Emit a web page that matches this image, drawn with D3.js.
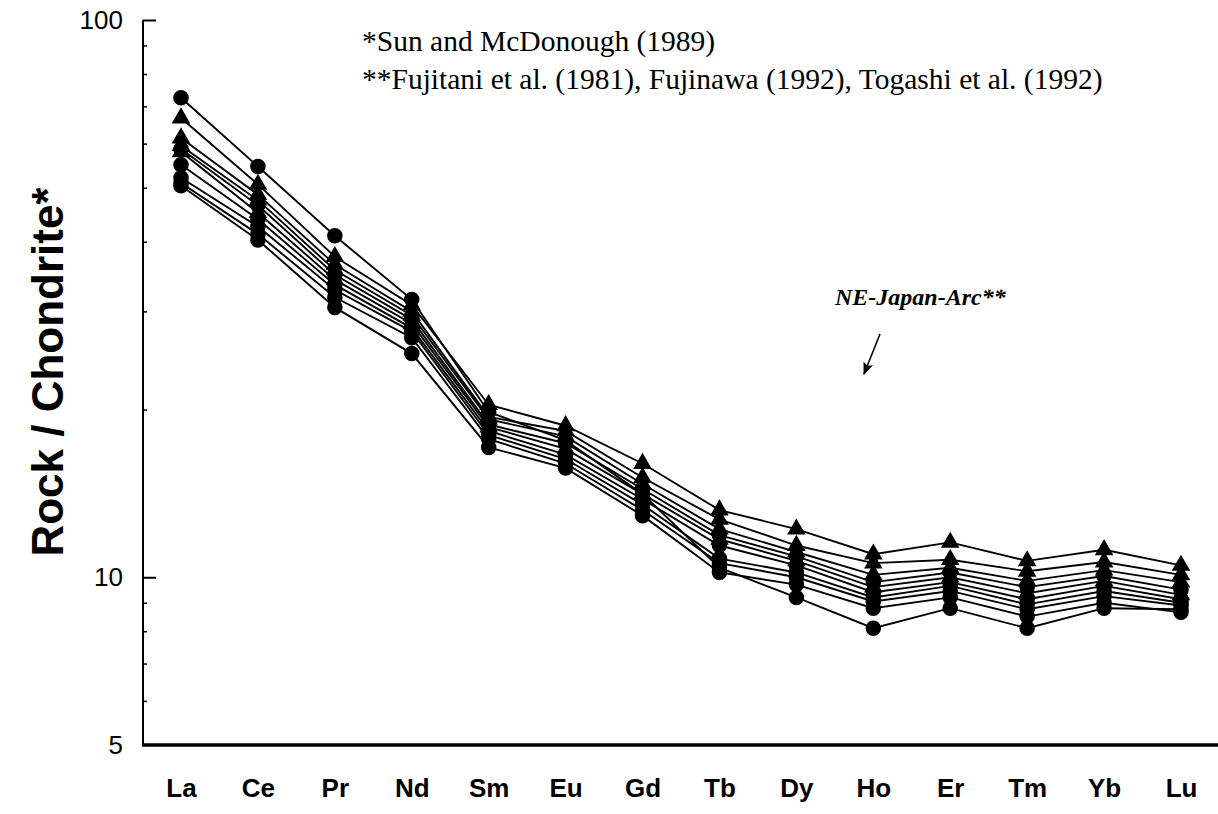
<!DOCTYPE html>
<html>
<head>
<meta charset="utf-8">
<script src="https://cdn.jsdelivr.net/npm/d3@7"></script>
<style>
  html, body { margin: 0; padding: 0; background: #fff; }
  svg { display: block; }
</style>
</head>
<body>
<svg id="chart" width="1218" height="814"></svg>
<script>
// Rare earth elements, chondrite-normalised (Sun and McDonough, 1989)
const elements = ["La","Ce","Pr","Nd","Sm","Eu","Gd","Tb","Dy","Ho","Er","Tm","Yb","Lu"];

// One array per sample; shape of its symbol below
const sampleA = [72.5, 54.6, 41.0, 31.5, 19.8, 17.6, 14.1, 10.4, 9.2, 8.1, 8.8, 8.1, 8.8, 8.76];
const sampleB = [66.7, 50.7, 37.6, 30.8, 20.4, 18.7, 16.0, 13.2, 12.2, 11.0, 11.55, 10.7, 11.2, 10.5];
const sampleC = [61.4, 48.6, 36.4, 30.0, 19.4, 18.3, 15.1, 12.7, 11.4, 10.6, 10.75, 10.25, 10.65, 10.1];
const sampleD = [59.5, 47.5, 35.6, 29.5, 19.2, 17.9, 14.7, 12.2, 11.1, 10.1, 10.4, 9.85, 10.3, 9.8];
const sampleE = [58.7, 46.5, 34.9, 29.0, 18.8, 17.4, 14.4, 11.9, 10.9, 9.8, 10.2, 9.6, 10.05, 9.5];
const sampleF = [58.0, 45.1, 34.2, 28.5, 18.6, 17.0, 14.1, 11.7, 10.7, 9.6, 10.0, 9.36, 9.85, 9.3];
const sampleG = [55.0, 43.9, 33.5, 28.0, 18.3, 16.6, 13.8, 11.4, 10.5, 9.4, 9.8, 9.13, 9.65, 9.13];
const sampleH = [52.1, 42.6, 32.8, 27.6, 18.0, 16.3, 13.5, 10.8, 10.2, 9.2, 9.65, 8.94, 9.45, 9.0];
const sampleI = [51.0, 41.3, 31.8, 26.9, 17.7, 16.0, 13.2, 10.6, 10.0, 9.05, 9.45, 8.76, 9.25, 8.9];
const sampleJ = [50.4, 40.3, 30.5, 25.2, 17.1, 15.7, 12.9, 10.2, 9.7, 8.8, 9.2, 8.5, 9.0, 8.65];

const sampleValues = [sampleA, sampleB, sampleC, sampleD, sampleE, sampleF, sampleG, sampleH, sampleI, sampleJ];
const sampleSymbols = ["circle","triangle","triangle","triangle","circle","triangle","circle","circle","circle","circle"];

const yLabelTicks = [5, 10, 100];
const yMajorTicks = [10, 100];
const yMinorTicks = [6, 7, 8, 9, 20, 30, 40, 50, 60, 70, 80, 90];

const yTitle = "Rock / Chondrite*";
const refLines = [
  "*Sun and McDonough (1989)",
  "**Fujitani et al. (1981), Fujinawa (1992), Togashi et al. (1992)"
];
const arcLabel = "NE-Japan-Arc**";

const svg = d3.select("#chart");

const axisX = 143, axisBottom = 745, axisTop = 20, axisRightEnd = 1218;

const x = d3.scalePoint().domain(elements).range([181, 1181]);
const y = d3.scaleLog().domain([5, 100]).range([axisBottom, axisTop]);

// Y axis: major and minor ticks pointing inwards
const yMajor = svg.append("g")
  .attr("transform", `translate(${axisX},0)`)
  .call(d3.axisRight(y).tickValues(yMajorTicks).tickSize(13).tickFormat(""));
yMajor.select(".domain").remove();
yMajor.selectAll("line").attr("stroke", "#000").attr("stroke-width", 2);

const yMinor = svg.append("g")
  .attr("transform", `translate(${axisX},0)`)
  .call(d3.axisRight(y).tickValues(yMinorTicks).tickSize(4).tickFormat(""));
yMinor.select(".domain").remove();
yMinor.selectAll("line").attr("stroke", "#000").attr("stroke-width", 1.5);

const yLabels = svg.append("g")
  .attr("transform", `translate(${axisX},0)`)
  .call(d3.axisLeft(y).tickValues(yLabelTicks).tickSize(0).tickPadding(20).tickFormat(d3.format("d")));
yLabels.select(".domain").remove();
yLabels.selectAll("text")
  .attr("font-family", "'Liberation Sans', Arial, sans-serif")
  .attr("font-size", 26)
  .attr("fill", "#000");

// Axis lines
svg.append("line")
  .attr("x1", axisX).attr("x2", axisX)
  .attr("y1", axisTop).attr("y2", axisBottom)
  .attr("stroke", "#000").attr("stroke-width", 2);

// X axis: element labels under a heavy baseline
const xAxis = svg.append("g")
  .attr("transform", `translate(0,${axisBottom})`)
  .call(d3.axisBottom(x).tickSize(0).tickPadding(34));
xAxis.select(".domain").remove();
xAxis.selectAll("text")
  .attr("font-family", "'Liberation Sans', Arial, sans-serif")
  .attr("font-weight", "bold")
  .attr("font-size", 26)
  .attr("fill", "#000");

svg.append("line")
  .attr("x1", axisX - 1).attr("x2", axisRightEnd)
  .attr("y1", axisBottom).attr("y2", axisBottom)
  .attr("stroke", "#000").attr("stroke-width", 3.5);

// Y title
svg.append("text")
  .attr("transform", `translate(63,372) rotate(-90)`)
  .attr("text-anchor", "middle")
  .attr("font-family", "'Liberation Sans', Arial, sans-serif")
  .attr("font-weight", "bold")
  .attr("font-size", 44)
  .attr("fill", "#000")
  .text(yTitle);

// Sample patterns
const line = d3.line()
  .x((d, i) => x(elements[i]))
  .y(d => y(d));

const plot = svg.append("g");
plot.selectAll("path.sample")
  .data(sampleValues)
  .join("path")
  .attr("class", "sample")
  .attr("d", line)
  .attr("fill", "none")
  .attr("stroke", "#000")
  .attr("stroke-width", 1.9);

const circleSym = d3.symbol().type(d3.symbolCircle).size(190);
const triSym = d3.symbol().type(d3.symbolTriangle).size(150);

sampleValues.forEach((vals, s) => {
  const sym = sampleSymbols[s] === "circle" ? circleSym : triSym;
  plot.append("g").selectAll("path")
    .data(vals)
    .join("path")
    .attr("d", sym)
    .attr("transform", (d, i) => `translate(${x(elements[i])},${y(d)})`)
    .attr("fill", "#000");
});

// References
svg.append("g").selectAll("text")
  .data(refLines)
  .join("text")
  .attr("x", 362)
  .attr("y", (d, i) => 51 + i * 38)
  .attr("font-family", "'Liberation Serif', 'Times New Roman', serif")
  .attr("font-size", 29.5)
  .attr("fill", "#000")
  .text(d => d);

// Arc label with pointer
svg.append("text")
  .attr("x", 835)
  .attr("y", 305)
  .attr("font-family", "'Liberation Serif', 'Times New Roman', serif")
  .attr("font-weight", "bold")
  .attr("font-style", "italic")
  .attr("font-size", 24)
  .attr("fill", "#000")
  .text(arcLabel);

svg.append("defs").append("marker")
  .attr("id", "arrowhead")
  .attr("viewBox", "0 0 10 10")
  .attr("refX", 9).attr("refY", 5)
  .attr("markerWidth", 8).attr("markerHeight", 8)
  .attr("markerUnits", "strokeWidth")
  .attr("orient", "auto")
  .append("path")
  .attr("d", "M0,1 L10,5 L0,9 L2,5 Z")
  .attr("fill", "#000");

svg.append("line")
  .attr("x1", 880).attr("y1", 334)
  .attr("x2", 864).attr("y2", 374)
  .attr("stroke", "#000")
  .attr("stroke-width", 1.6)
  .attr("marker-end", "url(#arrowhead)");
</script>
</body>
</html>
